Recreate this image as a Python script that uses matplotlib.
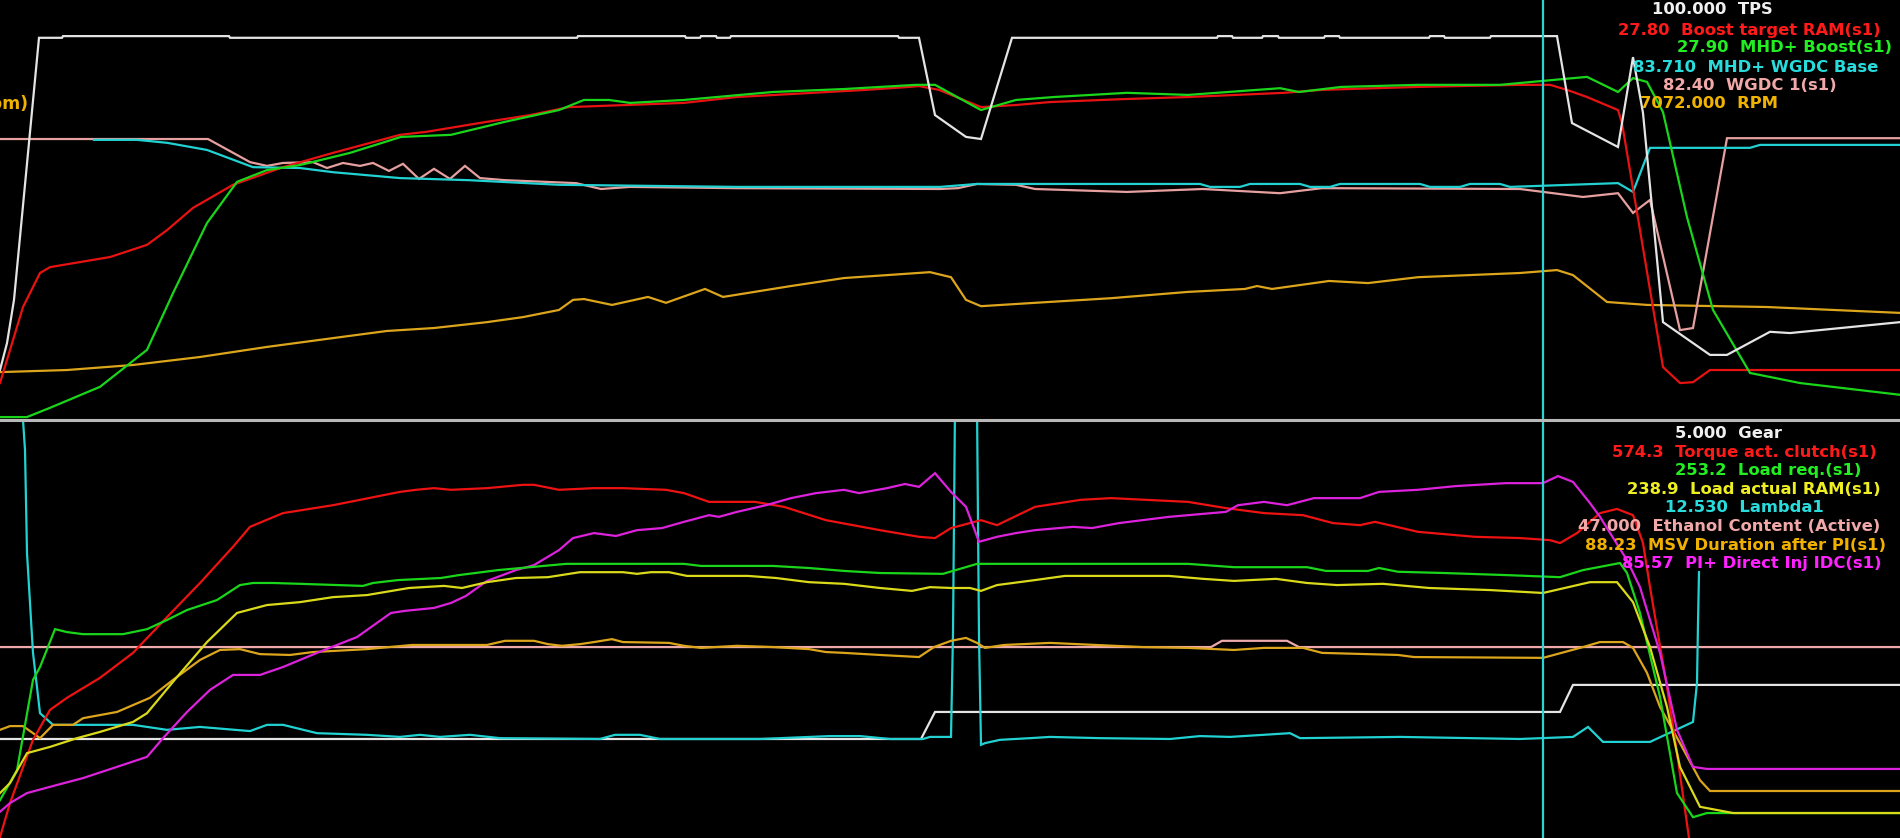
import matplotlib
matplotlib.use("Agg")
import matplotlib.pyplot as plt
from matplotlib.lines import Line2D

# log trace values, (time s, position in % of pane height)
tps = [(0.00, 11.9), (0.07, 18.3), (0.14, 28.6), (0.39, 91.0), (0.62, 91.0), (0.63, 91.4),
       (2.29, 91.4), (2.30, 91.0), (5.77, 91.0), (5.78, 91.4), (6.85, 91.4), (6.86, 91.0),
       (7.00, 91.0), (7.01, 91.4), (7.16, 91.4), (7.17, 91.0), (7.30, 91.0), (7.31, 91.4),
       (8.98, 91.4), (8.99, 91.0), (9.19, 91.0), (9.35, 72.6), (9.66, 67.4), (9.81, 66.9),
       (10.12, 91.0), (12.17, 91.0), (12.18, 91.4), (12.32, 91.4), (12.33, 91.0), (12.62, 91.0),
       (12.63, 91.4), (12.78, 91.4), (12.79, 91.0), (13.24, 91.0), (13.25, 91.4), (13.39, 91.4),
       (13.40, 91.0), (14.29, 91.0), (14.30, 91.4), (14.44, 91.4), (14.45, 91.0), (14.90, 91.0),
       (14.91, 91.4), (15.57, 91.4), (15.72, 70.7), (16.18, 65.0), (16.33, 86.4), (16.43, 73.1),
       (16.63, 23.3), (17.10, 15.5), (17.27, 15.5), (17.70, 21.0), (17.90, 20.7), (19.00, 23.3)]

boost_target = [(0.00, 8.8), (0.23, 26.9), (0.40, 35.0), (0.50, 36.4), (1.10, 38.8), (1.47, 41.7),
                (1.67, 45.2), (1.93, 50.5), (2.33, 56.0), (2.83, 60.2), (3.33, 63.6), (4.00, 67.9),
                (4.26, 68.6), (4.87, 71.0), (5.30, 72.6), (5.69, 74.5), (6.84, 75.5), (7.37, 76.9),
                (8.66, 78.6), (9.09, 79.3), (9.19, 79.5), (9.39, 78.6), (9.81, 74.5), (10.16, 75.0),
                (10.50, 75.7), (11.23, 76.4), (11.88, 76.9), (12.84, 77.9), (13.22, 78.6), (14.17, 79.3),
                (15.20, 79.8), (15.50, 79.8), (15.67, 78.6), (15.87, 76.9), (16.18, 73.8), (16.22, 70.7),
                (16.63, 12.6), (16.80, 8.8), (16.93, 9.0), (17.10, 11.9), (19.00, 11.9)]

mhd_boost = [(0.00, 0.7), (0.27, 0.7), (0.50, 2.9), (1.00, 7.9), (1.47, 16.7), (1.73, 30.2),
             (2.07, 46.9), (2.37, 56.7), (2.67, 59.5), (3.00, 60.7), (3.50, 63.6), (4.01, 67.4),
             (4.51, 67.9), (5.05, 71.0), (5.59, 73.8), (5.84, 76.2), (6.09, 76.2), (6.30, 75.5),
             (6.84, 76.2), (7.73, 78.1), (8.44, 78.8), (9.16, 79.8), (9.35, 79.8), (9.81, 73.8),
             (10.16, 76.2), (10.54, 76.9), (11.27, 77.9), (11.88, 77.4), (12.80, 79.0), (12.99, 78.1),
             (13.41, 79.3), (14.18, 79.8), (15.00, 79.8), (15.87, 81.7), (16.18, 78.1), (16.33, 81.4),
             (16.47, 80.5), (16.63, 73.3), (16.87, 48.3), (17.13, 26.2), (17.50, 11.2), (18.00, 8.8),
             (19.00, 6.0)]

wgdc_base = [(0.94, 66.7), (1.37, 66.7), (1.67, 66.0), (2.07, 64.3), (2.53, 60.2), (3.00, 60.0),
             (3.33, 59.0), (4.00, 57.6), (4.69, 57.1), (5.59, 56.0), (7.37, 55.5), (9.40, 55.5),
             (9.77, 56.2), (12.00, 56.2), (12.10, 55.5), (12.40, 55.5), (12.50, 56.2), (13.00, 56.2),
             (13.10, 55.5), (13.30, 55.5), (13.40, 56.2), (14.20, 56.2), (14.30, 55.5), (14.60, 55.5),
             (14.70, 56.2), (15.00, 56.2), (15.10, 55.5), (16.18, 56.4), (16.33, 54.3), (16.50, 64.8),
             (17.50, 64.8), (17.60, 65.5), (19.00, 65.5)]

wgdc_1 = [(0.00, 66.9), (2.08, 66.9), (2.50, 61.4), (2.67, 60.5), (2.83, 61.2), (3.13, 61.4),
          (3.27, 60.0), (3.43, 61.2), (3.60, 60.5), (3.73, 61.2), (3.89, 59.3), (4.03, 61.0),
          (4.19, 57.4), (4.34, 59.8), (4.50, 57.4), (4.65, 60.5), (4.80, 57.6), (5.05, 57.1),
          (5.76, 56.4), (6.01, 55.0), (6.30, 55.5), (7.37, 55.2), (9.40, 55.0), (9.58, 55.2),
          (9.77, 56.2), (10.16, 56.0), (10.35, 55.0), (11.27, 54.3), (12.03, 55.0), (12.80, 54.0),
          (13.22, 55.2), (15.20, 55.0), (15.83, 53.1), (16.18, 54.0), (16.33, 49.3), (16.50, 52.4),
          (16.80, 21.4), (16.93, 21.9), (17.27, 67.1), (19.00, 67.1)]

rpm = [(0.00, 11.4), (0.67, 11.9), (1.33, 13.1), (2.00, 15.0), (2.67, 17.4), (3.33, 19.5),
       (3.87, 21.2), (4.34, 21.9), (4.87, 23.3), (5.23, 24.5), (5.59, 26.2), (5.73, 28.6),
       (5.84, 28.8), (6.12, 27.4), (6.48, 29.3), (6.66, 27.9), (7.05, 31.2), (7.23, 29.3),
       (7.91, 31.9), (8.44, 33.8), (9.30, 35.2), (9.51, 34.0), (9.66, 28.6), (9.81, 27.1),
       (10.35, 27.9), (11.11, 29.0), (11.88, 30.5), (12.45, 31.2), (12.57, 31.9), (12.72, 31.2),
       (13.29, 33.1), (13.68, 32.6), (14.18, 34.0), (15.20, 35.0), (15.57, 35.7), (15.73, 34.5),
       (16.07, 28.1), (16.47, 27.4), (17.67, 26.9), (19.00, 25.5)]

gear = [(0.00, 23.8), (9.21, 23.8), (9.35, 30.3), (15.60, 30.3), (15.73, 36.8), (19.00, 36.8)]

torque = [(0.00, 0.2), (0.10, 8.4), (0.33, 23.6), (0.50, 30.8), (0.67, 33.7), (1.00, 38.5),
          (1.33, 44.5), (1.67, 53.1), (2.00, 61.3), (2.33, 70.0), (2.50, 74.8), (2.83, 78.1),
          (3.33, 80.0), (4.00, 83.2), (4.16, 83.7), (4.34, 84.1), (4.51, 83.7), (4.87, 84.1),
          (5.23, 84.9), (5.34, 84.9), (5.59, 83.7), (5.94, 84.1), (6.23, 84.1), (6.66, 83.7),
          (6.84, 82.9), (7.09, 80.8), (7.55, 80.8), (7.84, 79.6), (8.26, 76.4), (8.80, 74.0),
          (9.19, 72.4), (9.35, 72.1), (9.51, 74.5), (9.81, 76.4), (9.97, 75.2), (10.35, 79.6),
          (10.81, 81.3), (11.11, 81.7), (11.88, 80.8), (12.26, 79.3), (12.64, 78.1), (13.03, 77.6),
          (13.33, 75.7), (13.60, 75.2), (13.75, 76.0), (14.18, 73.6), (14.75, 72.4), (15.20, 72.1),
          (15.50, 71.6), (15.60, 70.9), (15.77, 73.3), (16.00, 78.1), (16.17, 79.1), (16.33, 77.6),
          (16.43, 70.9), (16.50, 60.3), (16.67, 36.3), (16.77, 20.4), (16.90, -1.7)]

load_req = [(0.00, 9.1), (0.17, 16.3), (0.33, 38.0), (0.40, 41.1), (0.55, 50.2), (0.67, 49.5),
            (0.83, 49.0), (1.23, 49.0), (1.47, 50.2), (1.67, 52.4), (1.87, 54.8), (2.17, 57.2),
            (2.40, 60.8), (2.53, 61.3), (2.73, 61.3), (3.00, 61.1), (3.63, 60.6), (3.73, 61.3),
            (3.98, 62.0), (4.41, 62.5), (4.59, 63.2), (4.98, 64.4), (5.30, 65.1), (5.66, 65.9),
            (6.84, 65.9), (7.01, 65.4), (7.73, 65.4), (8.09, 64.9), (8.44, 64.2), (8.80, 63.7),
            (9.43, 63.5), (9.77, 65.9), (11.88, 65.9), (12.34, 65.1), (13.07, 65.1), (13.26, 64.2),
            (13.68, 64.2), (13.79, 64.9), (13.98, 64.0), (14.44, 63.7), (15.06, 63.2), (15.60, 62.7),
            (15.83, 64.4), (16.20, 66.1), (16.27, 63.7), (16.40, 54.1), (16.60, 33.9), (16.77, 10.8),
            (16.93, 5.0), (17.07, 6.0), (19.00, 6.0)]

load_act = [(0.00, 10.8), (0.10, 13.2), (0.27, 20.4), (0.50, 21.9), (0.77, 24.0), (1.00, 25.5),
            (1.33, 27.9), (1.47, 30.0), (1.77, 38.7), (2.07, 47.1), (2.37, 54.1), (2.67, 56.0),
            (3.00, 56.7), (3.33, 57.9), (3.67, 58.4), (4.09, 60.1), (4.44, 60.6), (4.62, 60.1),
            (4.87, 61.5), (5.16, 62.5), (5.48, 62.7), (5.80, 63.9), (6.23, 63.9), (6.37, 63.5),
            (6.51, 63.9), (6.69, 63.9), (6.87, 63.0), (7.48, 63.0), (7.76, 62.5), (8.09, 61.5),
            (8.44, 61.1), (8.80, 60.1), (9.12, 59.4), (9.30, 60.3), (9.51, 60.1), (9.70, 60.1),
            (9.81, 59.4), (9.97, 60.8), (10.35, 62.0), (10.65, 63.0), (11.69, 63.0), (12.03, 62.3),
            (12.34, 61.8), (12.76, 62.3), (13.07, 61.3), (13.37, 60.8), (13.83, 61.1), (14.29, 60.1),
            (14.90, 59.6), (15.43, 58.9), (15.90, 61.5), (16.17, 61.5), (16.33, 56.7), (16.50, 45.9),
            (16.67, 31.5), (16.80, 17.1), (17.00, 7.5), (17.33, 6.0), (19.00, 6.0)]

lambda1 = [(0.00, 104.0), (0.22, 104.0), (0.23, 100.5), (0.25, 93.3), (0.27, 68.5), (0.33, 44.5),
           (0.40, 30.0), (0.53, 27.2), (1.33, 27.2), (1.67, 26.0), (2.00, 26.7), (2.50, 25.7),
           (2.67, 27.2), (2.83, 27.2), (3.17, 25.2), (3.67, 24.8), (4.00, 24.3), (4.20, 24.8),
           (4.40, 24.3), (4.70, 24.8), (5.00, 24.0), (6.00, 23.8), (6.15, 24.8), (6.40, 24.8),
           (6.60, 23.8), (7.60, 23.8), (8.30, 24.5), (8.60, 24.5), (8.90, 23.8), (9.23, 23.8),
           (9.30, 24.3), (9.51, 24.3), (9.53, 49.3), (9.55, 104.0), (9.77, 104.0), (9.79, 48.3),
           (9.81, 22.4), (9.85, 22.8), (10.00, 23.6), (10.30, 24.0), (10.50, 24.3), (11.00, 24.0),
           (11.70, 23.8), (12.00, 24.5), (12.30, 24.3), (12.90, 25.2), (13.00, 24.0), (14.00, 24.3),
           (15.20, 23.8), (15.73, 24.3), (15.88, 26.7), (16.03, 23.1), (16.50, 23.1), (16.93, 27.9),
           (16.97, 37.3), (16.98, 51.7), (16.99, 63.9)]

ethanol = [(0.00, 45.9), (12.11, 45.9), (12.22, 47.4), (12.87, 47.4), (12.99, 45.9), (19.00, 45.9)]

msv = [(0.00, 26.0), (0.10, 26.9), (0.23, 26.9), (0.33, 25.2), (0.40, 24.0), (0.53, 27.2),
       (0.73, 27.2), (0.83, 28.8), (1.17, 30.3), (1.50, 33.7), (1.73, 38.0), (2.00, 42.8),
       (2.20, 45.2), (2.40, 45.4), (2.60, 44.2), (2.90, 44.0), (3.13, 44.7), (3.67, 45.4),
       (4.12, 46.4), (4.87, 46.4), (5.05, 47.4), (5.34, 47.4), (5.48, 46.6), (5.62, 46.2),
       (5.80, 46.6), (5.94, 47.1), (6.12, 47.8), (6.23, 47.1), (6.69, 46.9), (6.84, 46.2),
       (7.01, 45.7), (7.37, 46.2), (7.73, 45.9), (8.09, 45.4), (8.26, 44.7), (8.44, 44.5),
       (8.80, 44.0), (9.19, 43.5), (9.34, 45.9), (9.51, 47.4), (9.66, 48.1), (9.77, 46.9),
       (9.85, 45.7), (10.04, 46.4), (10.50, 46.9), (10.96, 46.4), (11.42, 45.9), (11.88, 45.7),
       (12.34, 45.2), (12.64, 45.7), (13.03, 45.7), (13.22, 44.5), (13.98, 44.0), (14.14, 43.5),
       (15.43, 43.3), (15.83, 45.9), (16.00, 47.1), (16.23, 47.1), (16.33, 45.7), (16.47, 39.7),
       (16.60, 31.5), (16.80, 22.8), (17.00, 13.9), (17.10, 11.3), (19.00, 11.3)]

inj_idc = [(0.00, 6.3), (0.10, 8.4), (0.27, 10.8), (0.50, 12.3), (0.83, 14.4), (1.17, 17.1),
           (1.47, 19.5), (1.63, 24.0), (1.87, 30.3), (2.10, 35.6), (2.33, 39.2), (2.60, 39.2),
           (2.83, 41.1), (3.17, 44.5), (3.57, 48.3), (3.91, 54.1), (4.05, 54.6), (4.34, 55.3),
           (4.51, 56.5), (4.66, 58.2), (4.87, 61.8), (5.16, 64.4), (5.34, 65.6), (5.59, 69.2),
           (5.73, 72.1), (5.94, 73.3), (6.16, 72.6), (6.37, 74.0), (6.62, 74.5), (6.84, 76.0),
           (7.09, 77.6), (7.19, 77.2), (7.37, 78.4), (7.66, 80.0), (7.91, 81.7), (8.16, 82.9),
           (8.44, 83.7), (8.59, 82.9), (8.87, 84.1), (9.05, 85.1), (9.19, 84.4), (9.35, 87.7),
           (9.51, 83.2), (9.66, 79.6), (9.79, 71.2), (9.97, 72.4), (10.16, 73.3), (10.35, 74.0),
           (10.73, 74.8), (10.92, 74.5), (11.19, 75.7), (11.69, 77.2), (12.26, 78.4), (12.38, 80.0),
           (12.64, 80.8), (12.87, 80.0), (13.14, 81.7), (13.60, 81.7), (13.79, 83.2), (14.18, 83.7),
           (14.56, 84.6), (15.06, 85.3), (15.43, 85.3), (15.58, 87.0), (15.73, 85.6), (15.90, 80.5),
           (16.00, 77.2), (16.27, 66.8), (16.40, 60.3), (16.60, 44.5), (16.77, 26.0), (16.93, 17.1),
           (17.07, 16.6), (19.00, 16.6)]

cursor_t = 15.43

# cursor readout: value, name
top_labels = [("100.000", "TPS"), ("27.80", "Boost target RAM(s1)"), ("27.90", "MHD+ Boost(s1)"),
              ("83.710", "MHD+ WGDC Base"), ("82.40", "WGDC 1(s1)"), ("7072.000", "RPM")]
bottom_labels = [("5.000", "Gear"), ("574.3", "Torque act. clutch(s1)"), ("253.2", "Load req.(s1)"),
                 ("238.9", "Load actual RAM(s1)"), ("12.530", "Lambda1"),
                 ("47.000", "Ethanol Content (Active)"), ("88.23", "MSV Duration after PI(s1)"),
                 ("85.57", "PI+ Direct Inj IDC(s1)")]

W, H = 1900, 838
fig = plt.figure(figsize=(W / 100, H / 100), dpi=100, facecolor="black")

ax_top = fig.add_axes([0, 418 / H, 1, 420 / H])
ax_bot = fig.add_axes([0, 0, 1, 416 / H])
for ax in (ax_top, ax_bot):
    ax.set_facecolor("black")
    ax.set_xlim(0, 19)
    ax.set_ylim(0, 100)
    ax.axis("off")


def trace(ax, pts, color, lw=1.6):
    t = [p[0] for p in pts]
    v = [p[1] for p in pts]
    ax.plot(t, v, color=color, lw=lw, solid_joinstyle="miter")


top_series = [(rpm, "#dca51c"), (wgdc_1, "#e6a0a0"), (wgdc_base, "#22d2d2"),
              (boost_target, "#e81212"), (mhd_boost, "#1ad61a"), (tps, "#e4e4e4")]
for pts, c in top_series:
    trace(ax_top, pts, c)

bot_series = [(ethanol, "#eeaaaa"), (gear, "#e4e4e4"), (lambda1, "#22d2d2"), (msv, "#dca51c"),
              (torque, "#ee1212"), (inj_idc, "#dc22dc"), (load_req, "#1ad61a"), (load_act, "#dada1a")]
for pts, c in bot_series:
    trace(ax_bot, pts, c)

for ax in (ax_top, ax_bot):
    ax.axvline(cursor_t, color="#2ad4d4", lw=1.6)

# pane separator
fig.add_artist(Line2D([0, 1], [1 - 420.5 / H] * 2, color="#b8b8b8", lw=2.2,
                      transform=fig.transFigure))

# axis label of the RPM trace, cut off at the left edge as in the logger window
fig.text(29 / W, 1 - 104 / H, "(rpm)", color="#f0b000", fontsize=12.5, fontweight="bold",
         ha="right", va="center")

font = dict(fontsize=11.8, fontweight="bold", ha="left", va="center")

top_colors = ["#f0f0f0", "#ff1a1a", "#22ee22", "#28dcdc", "#f0a8a8", "#f0b400"]
top_x = [1652, 1618, 1677, 1633, 1663, 1640]
top_y = [10, 30, 48, 67, 85, 103]
for (val, name), c, x, y in zip(top_labels, top_colors, top_x, top_y):
    fig.text(x / W, 1 - y / H, val + "  " + name, color=c, **font)

bot_colors = ["#f0f0f0", "#ff1a1a", "#22ee22", "#eeee22", "#28dcdc", "#f0a8a8", "#f0b000", "#ff22ff"]
bot_x = [1675, 1612, 1675, 1627, 1665, 1578, 1585, 1622]
bot_y = [433, 452, 470, 489, 507, 526, 545, 563]
for (val, name), c, x, y in zip(bottom_labels, bot_colors, bot_x, bot_y):
    fig.text(x / W, 1 - y / H, val + "  " + name, color=c, **font)

fig.savefig("out.png", dpi=100, facecolor="black")
